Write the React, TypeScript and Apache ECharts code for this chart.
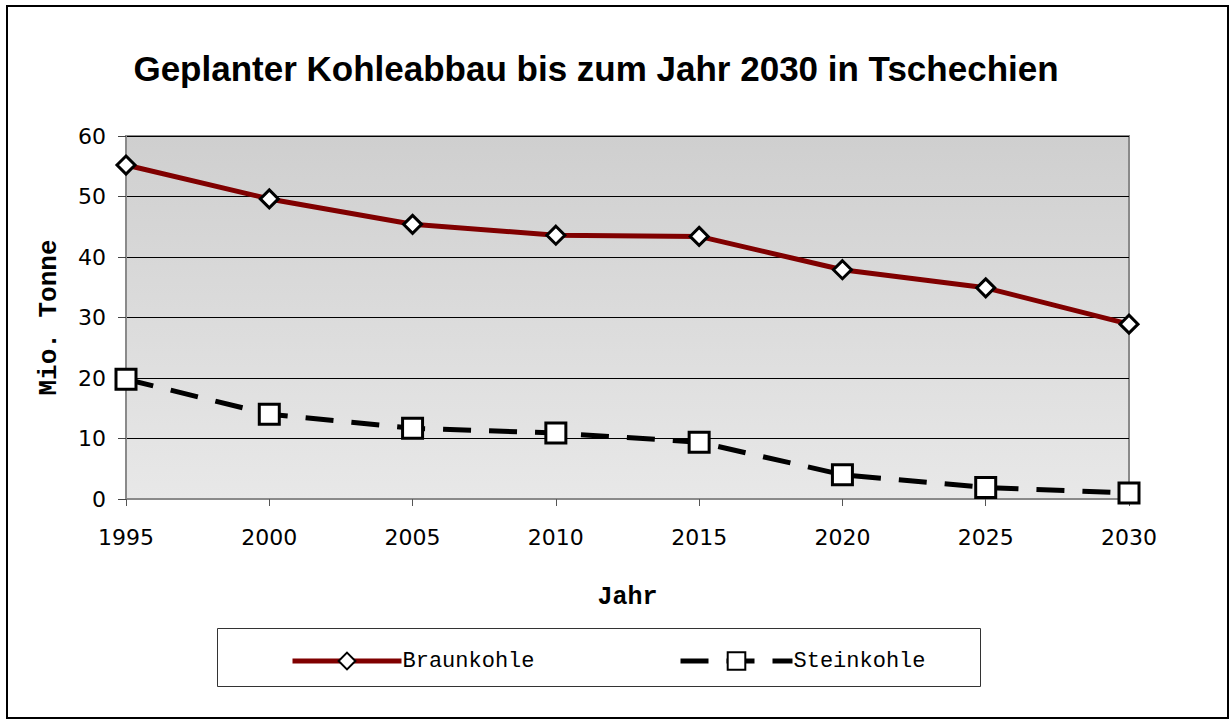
import React, { useEffect, useRef } from "react";
import * as echarts from "echarts";

const years = ["1995", "2000", "2005", "2010", "2015", "2020", "2025", "2030"];
const braunkohle = [55.2, 49.6, 45.4, 43.6, 43.4, 37.9, 34.9, 28.9];
const steinkohle = [19.8, 14.0, 11.7, 10.9, 9.4, 4.0, 1.9, 1.0];
const yTicks = { min: 0, max: 60, interval: 10 };

export default function App() {
  const ref = useRef<HTMLDivElement>(null);
  useEffect(() => {
    if (!ref.current) return;
    const chart = echarts.init(ref.current, null, { renderer: "svg" });
    const legendText = { fontFamily: "Liberation Mono", fontSize: 22, color: "#000", padding: [0, 0, 0, -4] };
    chart.setOption({
      animation: false,
      backgroundColor: "#ffffff",
      title: {
        text: "Geplanter Kohleabbau bis zum Jahr 2030 in Tschechien",
        left: 591,
        top: 46,
        textAlign: "center",
        textStyle: { fontFamily: "Liberation Sans, Arial", fontWeight: "bold", fontSize: 35, color: "#000" },
      },
      graphic: [
        { type: "rect", shape: { x: 7, y: 6, width: 1221, height: 712 }, style: { fill: "none", stroke: "#000", lineWidth: 2 }, z: -1 },
        { type: "rect", shape: { x: 217.5, y: 628.5, width: 763, height: 58 }, style: { fill: "none", stroke: "#333", lineWidth: 1 } },
      ],
      legend: [
        {
          data: ["Braunkohle"],
          left: 285,
          top: 645,
          itemWidth: 109,
          itemHeight: 21,
          lineStyle: { width: 5 },
          textStyle: legendText,
        },
        {
          data: ["Steinkohle"],
          left: 673,
          top: 645,
          itemWidth: 112,
          itemHeight: 22,
          lineStyle: { width: 5 },
          textStyle: legendText,
        },
      ],
      grid: {
        left: 126,
        top: 136,
        right: 102,
        bottom: 221,
        show: true,
        borderColor: "#8a8a8a",
        borderWidth: 2,
        backgroundColor: new echarts.graphic.LinearGradient(0, 0, 0, 1, [
          { offset: 0, color: "#cfcfcf" },
          { offset: 1, color: "#e8e8e8" },
        ]),
      },
      xAxis: {
        type: "category",
        data: years,
        boundaryGap: false,
        name: "Jahr",
        nameLocation: "middle",
        nameGap: 86,
        nameTextStyle: { fontFamily: "Liberation Mono", fontWeight: "bold", fontSize: 25, color: "#000" },
        axisLine: { show: true, lineStyle: { color: "#8a8a8a", width: 2 } },
        axisTick: { show: true, alignWithLabel: true, length: 7, lineStyle: { color: "#555", width: 1 } },
        axisLabel: { margin: 27, fontFamily: "DejaVu Sans", fontSize: 22, color: "#000" },
        splitLine: { show: false },
      },
      yAxis: {
        type: "value",
        min: yTicks.min,
        max: yTicks.max,
        interval: yTicks.interval,
        name: "Mio. Tonne",
        nameLocation: "middle",
        nameGap: 64,
        nameRotate: 90,
        nameTextStyle: { fontFamily: "Liberation Mono", fontWeight: "bold", fontSize: 26, color: "#000" },
        axisLine: { show: true, lineStyle: { color: "#8a8a8a", width: 2 } },
        axisTick: { show: true, length: 8, lineStyle: { color: "#444", width: 1 } },
        axisLabel: { margin: 20, fontFamily: "DejaVu Sans", fontSize: 22, color: "#000" },
        splitLine: { show: true, lineStyle: { color: "#000", width: 1 } },
      },
      series: [
        {
          name: "Braunkohle",
          type: "line",
          data: braunkohle,
          lineStyle: { color: "#800000", width: 5 },
          itemStyle: { color: "#ffffff", borderColor: "#000", borderWidth: 3 },
          symbol: "diamond",
          symbolSize: 18,
          showAllSymbol: true,
          z: 3,
        },
        {
          name: "Steinkohle",
          type: "line",
          data: steinkohle,
          lineStyle: { color: "#000", width: 5, type: [28, 18] },
          itemStyle: { color: "#ffffff", borderColor: "#000", borderWidth: 3 },
          symbol: "rect",
          symbolSize: 20,
          showAllSymbol: true,
          z: 3,
        },
      ],
    });
    return () => chart.dispose();
  }, []);
  return <div ref={ref} style={{ position: "fixed", left: 0, top: 0, width: 1231, height: 720 }} />;
}
